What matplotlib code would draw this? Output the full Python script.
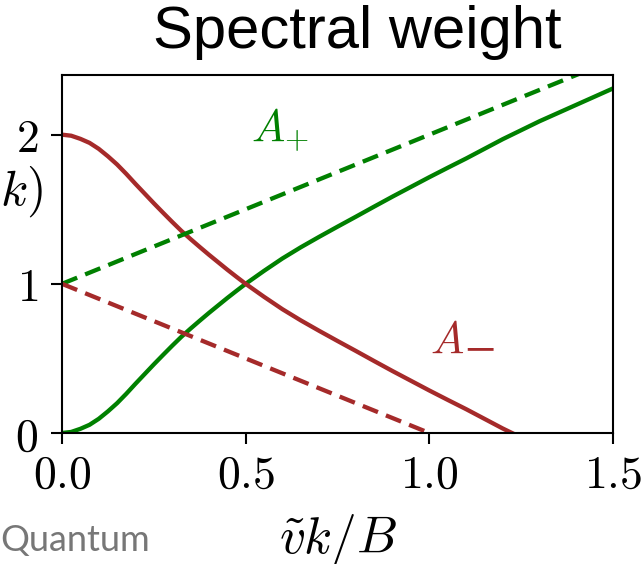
import matplotlib
matplotlib.use("Agg")
from matplotlib import pyplot as plt
import numpy as np

# data
k_plus = [0.0, 0.025, 0.05, 0.075, 0.10, 0.125, 0.15, 0.175, 0.20, 0.225, 0.25,
          0.275, 0.30, 0.325, 0.35, 0.375, 0.40, 0.425, 0.45, 0.475, 0.50,
          0.55, 0.60, 0.65, 0.70, 0.75, 0.80, 0.85, 0.90, 0.95, 1.00,
          1.05, 1.10, 1.15, 1.20, 1.25, 1.30, 1.35, 1.40, 1.45, 1.50]
a_plus = [0.0, 0.007, 0.028, 0.055, 0.095, 0.145, 0.200, 0.263, 0.330, 0.395, 0.460,
          0.523, 0.585, 0.645, 0.700, 0.753, 0.805, 0.855, 0.905, 0.953, 1.000,
          1.087, 1.170, 1.245, 1.315, 1.383, 1.450, 1.518, 1.585, 1.650, 1.715,
          1.778, 1.840, 1.905, 1.970, 2.030, 2.090, 2.145, 2.200, 2.255, 2.310]
k_minus = [0.0, 0.025, 0.05, 0.075, 0.10, 0.125, 0.15, 0.175, 0.20, 0.225, 0.25,
           0.275, 0.30, 0.325, 0.35, 0.375, 0.40, 0.425, 0.45, 0.475, 0.50,
           0.55, 0.60, 0.65, 0.70, 0.75, 0.80, 0.85, 0.90, 0.95, 1.00,
           1.05, 1.10, 1.15, 1.20, 1.225]
a_minus = [2.0, 1.993, 1.972, 1.945, 1.905, 1.855, 1.800, 1.737, 1.670, 1.605, 1.540,
           1.477, 1.415, 1.355, 1.300, 1.247, 1.195, 1.145, 1.095, 1.047, 1.000,
           0.913, 0.830, 0.755, 0.685, 0.617, 0.550, 0.482, 0.415, 0.350, 0.285,
           0.222, 0.160, 0.095, 0.030, 0.0]
k_dash_plus = [0.0, 1.5]
a_dash_plus = [1.0, 2.5]
k_dash_minus = [0.0, 1.0]
a_dash_minus = [1.0, 0.0]

xticks = [0.0, 0.5, 1.0, 1.5]
yticks = [0, 1, 2]

plt.rcParams['mathtext.fontset'] = 'cm'

fig = plt.figure(figsize=(6.42, 5.64), dpi=100)
ax = fig.add_axes([62/642, 1-433/564, (613-62)/642, (433-75)/564])

green = '#008000'
red = '#a52a2a'
lw = 3.1
ax.plot(k_plus, a_plus, color=green, lw=lw)
ax.plot(k_minus, a_minus, color=red, lw=lw)
ax.plot(k_dash_plus, a_dash_plus, color=green, lw=lw, ls='--', dashes=(3.8, 2.0))
ax.plot(k_dash_minus, a_dash_minus, color=red, lw=lw, ls='--', dashes=(3.8, 2.0))

ax.set_xlim(0, 1.5)
ax.set_ylim(0, 2.4)
ax.set_xticks(xticks)
ax.set_yticks(yticks)
ax.set_xticklabels([r'$%.1f$' % t for t in xticks], fontsize=33)
ax.set_yticklabels([r'$%d$' % t for t in yticks], fontsize=33)
ax.tick_params(length=8, width=1.5)
ax.tick_params(axis='x', pad=6)
ax.tick_params(axis='y', pad=9)
for s in ax.spines.values():
    s.set_linewidth(1.5)

ax.text(0.593, 2.03, r'$A_{+}$', color=green, fontsize=32, ha='center', va='center')
# the cm subscript minus does not show, so the minus is its own text
ax.text(1.048, 0.62, r'$A$', color=red, fontsize=32, ha='center', va='center')
ax.text(1.138, 0.535, '\u2212', color=red, fontsize=40, family='Liberation Serif',
        ha='center', va='center')

fig.text(338/642, 1-540/564, r'$\tilde{v}k/B$', fontsize=37, ha='center', va='center')
fig.text(43/642, 1-192/564, r'$A_\pm(k)$', fontsize=36, ha='right', va='center')
fig.text(357/642, 1-48/564, 'Spectral weight', fontsize=43,
         family='Liberation Sans', ha='center', va='baseline')
fig.text(0, 1-541/564, 'Quantum', fontsize=26, family='Lato', color='#777777',
         ha='left', va='center')

fig.savefig('out.png', dpi=100)
